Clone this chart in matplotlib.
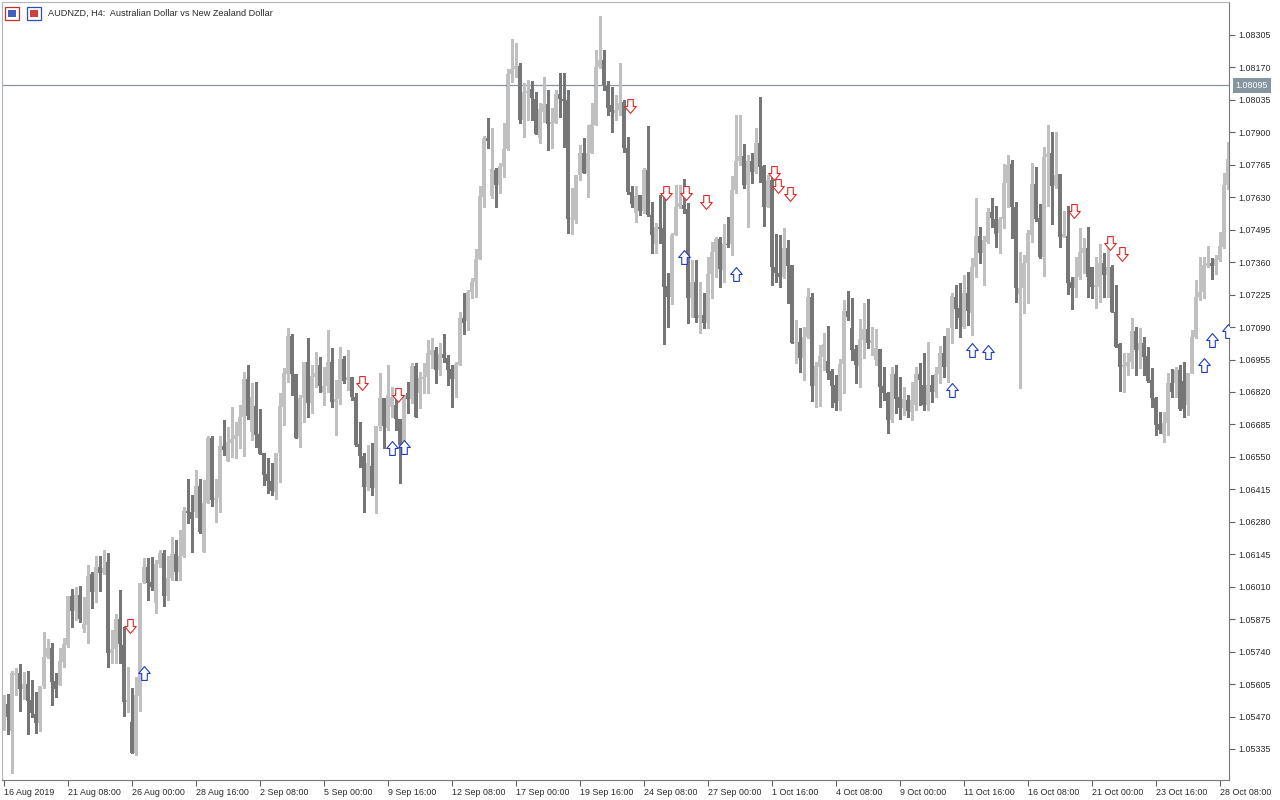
import numpy as np
import matplotlib.pyplot as plt
from matplotlib.patches import Rectangle
from matplotlib.path import Path
import matplotlib.transforms as mtransforms

plt.rcParams['font.family'] = ['Liberation Sans', 'DejaVu Sans']

# AUDNZD H4 candles
opens = [
    1.05427, 1.05522, 1.05410, 1.05643, 1.05651, 1.05585, 1.05606, 1.05539, 1.05481, 1.05443,
    1.05597, 1.05718, 1.05755, 1.05618, 1.05601, 1.05697, 1.05768, 1.05972, 1.05909, 1.05976,
    1.05834, 1.05851, 1.06063, 1.05988, 1.06092, 1.06067, 1.06113, 1.05735, 1.05751, 1.05876,
    1.05768, 1.05531, 1.05447, 1.05319, 1.05556, 1.06026, 1.06092, 1.06030, 1.05943, 1.06105,
    1.06151, 1.05972, 1.06047, 1.06146, 1.06071, 1.06138, 1.06325, 1.06321, 1.06321, 1.06429,
    1.06155, 1.06359, 1.06629, 1.06371, 1.06379, 1.06596, 1.06533, 1.06608, 1.06625, 1.06637,
    1.06716, 1.06874, 1.06654, 1.06762, 1.06646, 1.06567, 1.06479, 1.06450, 1.06404, 1.06567,
    1.06758, 1.06895, 1.07053, 1.06895, 1.06629, 1.06795, 1.06945, 1.06775, 1.06883, 1.06933,
    1.06820, 1.06845, 1.06945, 1.06779, 1.06791, 1.06958, 1.06870, 1.06883, 1.06799, 1.06604,
    1.06554, 1.06425, 1.06512, 1.06421, 1.06679, 1.06795, 1.06671, 1.06758, 1.06766, 1.06708,
    1.06600, 1.06816, 1.06791, 1.06928, 1.06816, 1.06874, 1.06883, 1.06974, 1.06995, 1.06912,
    1.06978, 1.06962, 1.06916, 1.06874, 1.06933, 1.07128, 1.07116, 1.07236, 1.07278, 1.07374,
    1.07631, 1.07877, 1.07636, 1.07744, 1.07681, 1.07756, 1.07831, 1.08143, 1.08164, 1.08176,
    1.07952, 1.08064, 1.08081, 1.08039, 1.07877, 1.07985, 1.08018, 1.07935, 1.07939, 1.08060,
    1.08039, 1.08035, 1.07540, 1.07536, 1.07723, 1.07815, 1.07731, 1.07815, 1.07931, 1.08172,
    1.08201, 1.08097, 1.08014, 1.07981, 1.07993, 1.08027, 1.07835, 1.07652, 1.07565, 1.07640,
    1.07573, 1.07744, 1.07557, 1.07436, 1.07507, 1.07503, 1.07261, 1.07215, 1.07473, 1.07590,
    1.07598, 1.07582, 1.07211, 1.07278, 1.07128, 1.07141, 1.07107, 1.07311, 1.07403, 1.07457,
    1.07328, 1.07436, 1.07436, 1.07661, 1.07781, 1.07802, 1.07681, 1.07781, 1.07735, 1.07856,
    1.07760, 1.07590, 1.07702, 1.07340, 1.07315, 1.07299, 1.07419, 1.07349, 1.07024, 1.07028,
    1.06962, 1.07049, 1.07215, 1.06845, 1.06924, 1.06966, 1.06949, 1.06908, 1.06849, 1.06783,
    1.06937, 1.07157, 1.07087, 1.06999, 1.06928, 1.07037, 1.07082, 1.07024, 1.06953, 1.06999,
    1.06845, 1.06816, 1.06704, 1.06895, 1.06799, 1.06754, 1.06787, 1.06737, 1.06766, 1.06895,
    1.06849, 1.06766, 1.06849, 1.06820, 1.06895, 1.06983, 1.06924, 1.07087, 1.07215, 1.07170,
    1.07091, 1.07232, 1.07149, 1.07340, 1.07469, 1.07399, 1.07444, 1.07569, 1.07540, 1.07482,
    1.07540, 1.07690, 1.07769, 1.07590, 1.07228, 1.07253, 1.07357, 1.07473, 1.07686, 1.07544,
    1.07382, 1.07798, 1.07815, 1.07677, 1.07727, 1.07465, 1.07469, 1.07278, 1.07253, 1.07299,
    1.07399, 1.07419, 1.07340, 1.07257, 1.07257, 1.07357, 1.07307, 1.07340, 1.07153, 1.07020,
    1.06924, 1.06928, 1.06945, 1.07074, 1.06995, 1.07024, 1.06970, 1.06870, 1.06795, 1.06687,
    1.06641, 1.06691, 1.06858, 1.06858, 1.06912, 1.06866, 1.06766, 1.06899, 1.07049, 1.07215,
    1.07236, 1.07344, 1.07357, 1.07344, 1.07369, 1.07423, 1.07681,
]
highs = [
    1.05560, 1.05564, 1.05660, 1.05672, 1.05689, 1.05655, 1.05660, 1.05622, 1.05572, 1.05597,
    1.05822, 1.05793, 1.05776, 1.05651, 1.05755, 1.05797, 1.05972, 1.06001, 1.06009, 1.06013,
    1.05967, 1.06101, 1.06071, 1.06138, 1.06138, 1.06163, 1.06151, 1.05830, 1.05897, 1.05997,
    1.05843, 1.05676, 1.05589, 1.05635, 1.06026, 1.06130, 1.06130, 1.06134, 1.06121, 1.06163,
    1.06163, 1.06138, 1.06217, 1.06205, 1.06246, 1.06342, 1.06458, 1.06392, 1.06496, 1.06458,
    1.06454, 1.06637, 1.06637, 1.06458, 1.06637, 1.06704, 1.06675, 1.06758, 1.06695, 1.06766,
    1.06903, 1.06933, 1.06858, 1.06862, 1.06750, 1.06567, 1.06546, 1.06525, 1.06567, 1.06816,
    1.06920, 1.07087, 1.07062, 1.06895, 1.06808, 1.06945, 1.07045, 1.06933, 1.06987, 1.06966,
    1.06924, 1.07078, 1.07003, 1.06870, 1.07007, 1.06970, 1.06995, 1.06883, 1.06816, 1.06695,
    1.06567, 1.06600, 1.06608, 1.06679, 1.06899, 1.06795, 1.06933, 1.06841, 1.06820, 1.06708,
    1.06808, 1.06862, 1.06941, 1.06941, 1.06903, 1.06941, 1.07037, 1.07045, 1.07007, 1.07024,
    1.07062, 1.06974, 1.06933, 1.06945, 1.07153, 1.07232, 1.07245, 1.07295, 1.07415, 1.07677,
    1.07885, 1.07960, 1.07919, 1.07752, 1.07773, 1.07939, 1.08164, 1.08289, 1.08272, 1.08189,
    1.08106, 1.08118, 1.08114, 1.08068, 1.08023, 1.08131, 1.08077, 1.08002, 1.08077, 1.08147,
    1.08147, 1.08077, 1.07669, 1.07723, 1.07848, 1.07877, 1.07931, 1.08023, 1.08243, 1.08384,
    1.08243, 1.08114, 1.08089, 1.08056, 1.08189, 1.08035, 1.07881, 1.07677, 1.07677, 1.07640,
    1.07752, 1.07927, 1.07611, 1.07523, 1.07640, 1.07661, 1.07315, 1.07482, 1.07681, 1.07681,
    1.07706, 1.07607, 1.07369, 1.07369, 1.07278, 1.07232, 1.07382, 1.07444, 1.07465, 1.07465,
    1.07519, 1.07548, 1.07719, 1.07973, 1.07973, 1.07852, 1.07806, 1.07815, 1.07919, 1.08047,
    1.07765, 1.07723, 1.07723, 1.07478, 1.07473, 1.07503, 1.07453, 1.07349, 1.07120, 1.07087,
    1.07091, 1.07253, 1.07232, 1.06945, 1.07016, 1.07066, 1.07095, 1.06916, 1.06891, 1.06958,
    1.07203, 1.07240, 1.07211, 1.07016, 1.07124, 1.07191, 1.07207, 1.07091, 1.07082, 1.06999,
    1.06924, 1.06820, 1.06924, 1.06933, 1.06883, 1.06841, 1.06808, 1.06862, 1.06924, 1.06941,
    1.06983, 1.07028, 1.06891, 1.06924, 1.07012, 1.07053, 1.07087, 1.07232, 1.07265, 1.07274,
    1.07307, 1.07319, 1.07378, 1.07627, 1.07507, 1.07469, 1.07586, 1.07627, 1.07594, 1.07548,
    1.07769, 1.07806, 1.07785, 1.07611, 1.07403, 1.07390, 1.07494, 1.07773, 1.07756, 1.07602,
    1.07839, 1.07931, 1.07902, 1.07902, 1.07727, 1.07573, 1.07594, 1.07299, 1.07382, 1.07503,
    1.07461, 1.07507, 1.07340, 1.07382, 1.07436, 1.07399, 1.07453, 1.07349, 1.07265, 1.07024,
    1.06983, 1.06983, 1.07128, 1.07091, 1.07087, 1.07049, 1.07007, 1.06920, 1.06799, 1.06737,
    1.06737, 1.06899, 1.06916, 1.06924, 1.06933, 1.06945, 1.06899, 1.07078, 1.07286, 1.07382,
    1.07382, 1.07428, 1.07378, 1.07390, 1.07486, 1.07731, 1.07860,
]
lows = [
    1.05414, 1.05398, 1.05235, 1.05560, 1.05493, 1.05543, 1.05398, 1.05468, 1.05402, 1.05410,
    1.05589, 1.05714, 1.05518, 1.05551, 1.05601, 1.05676, 1.05759, 1.05843, 1.05872, 1.05863,
    1.05822, 1.05776, 1.05922, 1.05947, 1.05992, 1.06063, 1.05676, 1.05693, 1.05693, 1.05693,
    1.05472, 1.05489, 1.05319, 1.05310, 1.05493, 1.06026, 1.05955, 1.05997, 1.05901, 1.06092,
    1.05930, 1.05955, 1.06038, 1.06038, 1.06038, 1.06134, 1.06275, 1.06155, 1.06300, 1.06234,
    1.06155, 1.06359, 1.06346, 1.06279, 1.06321, 1.06558, 1.06533, 1.06550, 1.06546, 1.06587,
    1.06554, 1.06708, 1.06621, 1.06591, 1.06562, 1.06433, 1.06400, 1.06392, 1.06375, 1.06446,
    1.06683, 1.06862, 1.06808, 1.06629, 1.06591, 1.06695, 1.06716, 1.06733, 1.06841, 1.06820,
    1.06766, 1.06820, 1.06758, 1.06641, 1.06770, 1.06858, 1.06829, 1.06787, 1.06596, 1.06508,
    1.06321, 1.06413, 1.06392, 1.06317, 1.06662, 1.06587, 1.06662, 1.06716, 1.06662, 1.06442,
    1.06591, 1.06733, 1.06775, 1.06716, 1.06754, 1.06816, 1.06816, 1.06920, 1.06858, 1.06891,
    1.06945, 1.06849, 1.06758, 1.06799, 1.06933, 1.07062, 1.07078, 1.07211, 1.07215, 1.07374,
    1.07590, 1.07835, 1.07627, 1.07590, 1.07648, 1.07715, 1.07827, 1.08110, 1.08131, 1.07939,
    1.07881, 1.07952, 1.07952, 1.07894, 1.07856, 1.07943, 1.07827, 1.07835, 1.07939, 1.07964,
    1.07839, 1.07482, 1.07478, 1.07523, 1.07702, 1.07731, 1.07631, 1.07815, 1.07931, 1.08168,
    1.08077, 1.07973, 1.07902, 1.07952, 1.07973, 1.07819, 1.07644, 1.07590, 1.07527, 1.07557,
    1.07565, 1.07552, 1.07399, 1.07399, 1.07440, 1.07020, 1.07091, 1.07186, 1.07473, 1.07586,
    1.07565, 1.07107, 1.07132, 1.07111, 1.07066, 1.07087, 1.07087, 1.07211, 1.07299, 1.07257,
    1.07278, 1.07423, 1.07390, 1.07648, 1.07765, 1.07669, 1.07507, 1.07690, 1.07731, 1.07694,
    1.07511, 1.07590, 1.07265, 1.07278, 1.07257, 1.07295, 1.07191, 1.07024, 1.06941, 1.06903,
    1.06870, 1.07045, 1.06783, 1.06758, 1.06762, 1.06912, 1.06874, 1.06758, 1.06745, 1.06745,
    1.06816, 1.07120, 1.06953, 1.06858, 1.06841, 1.06962, 1.07003, 1.06974, 1.06933, 1.06758,
    1.06787, 1.06650, 1.06695, 1.06733, 1.06708, 1.06725, 1.06716, 1.06704, 1.06745, 1.06766,
    1.06745, 1.06745, 1.06779, 1.06799, 1.06858, 1.06883, 1.06862, 1.07024, 1.07087, 1.07049,
    1.07087, 1.07099, 1.07057, 1.07299, 1.07357, 1.07265, 1.07440, 1.07507, 1.07423, 1.07399,
    1.07503, 1.07590, 1.07461, 1.07195, 1.06837, 1.07149, 1.07191, 1.07444, 1.07532, 1.07378,
    1.07303, 1.07594, 1.07519, 1.07669, 1.07423, 1.07465, 1.07228, 1.07166, 1.07215, 1.07290,
    1.07315, 1.07215, 1.07211, 1.07170, 1.07195, 1.07215, 1.07215, 1.07153, 1.07007, 1.06824,
    1.06820, 1.06891, 1.06920, 1.06891, 1.06920, 1.06891, 1.06862, 1.06758, 1.06641, 1.06650,
    1.06612, 1.06641, 1.06799, 1.06799, 1.06745, 1.06716, 1.06725, 1.06899, 1.07045, 1.07203,
    1.07211, 1.07340, 1.07290, 1.07311, 1.07365, 1.07419, 1.07665,
]
closes = [
    1.05527, 1.05468, 1.05651, 1.05651, 1.05585, 1.05606, 1.05535, 1.05485, 1.05443, 1.05597,
    1.05718, 1.05755, 1.05614, 1.05585, 1.05701, 1.05772, 1.05972, 1.05909, 1.05976, 1.05876,
    1.05855, 1.06055, 1.05988, 1.06092, 1.06067, 1.06088, 1.05735, 1.05751, 1.05876, 1.05772,
    1.05531, 1.05539, 1.05319, 1.05560, 1.06026, 1.06092, 1.06026, 1.06009, 1.06105, 1.06151,
    1.05972, 1.06047, 1.06146, 1.06071, 1.06138, 1.06325, 1.06317, 1.06292, 1.06429, 1.06238,
    1.06359, 1.06629, 1.06371, 1.06379, 1.06596, 1.06579, 1.06612, 1.06625, 1.06641, 1.06716,
    1.06874, 1.06720, 1.06799, 1.06641, 1.06562, 1.06475, 1.06450, 1.06408, 1.06567, 1.06762,
    1.06899, 1.07053, 1.06895, 1.06629, 1.06795, 1.06945, 1.06775, 1.06887, 1.06899, 1.06845,
    1.06845, 1.06945, 1.06779, 1.06791, 1.06958, 1.06866, 1.06883, 1.06799, 1.06600, 1.06554,
    1.06425, 1.06525, 1.06421, 1.06679, 1.06795, 1.06679, 1.06808, 1.06799, 1.06708, 1.06600,
    1.06795, 1.06791, 1.06928, 1.06716, 1.06879, 1.06883, 1.06983, 1.06995, 1.06912, 1.06978,
    1.06962, 1.06912, 1.06874, 1.06937, 1.07128, 1.07107, 1.07236, 1.07278, 1.07374, 1.07636,
    1.07877, 1.07864, 1.07748, 1.07681, 1.07760, 1.07831, 1.08143, 1.08164, 1.08176, 1.07952,
    1.08068, 1.08072, 1.08043, 1.07894, 1.07998, 1.08018, 1.07935, 1.07943, 1.08060, 1.08039,
    1.08031, 1.07540, 1.07544, 1.07723, 1.07815, 1.07731, 1.07815, 1.07935, 1.08172, 1.08201,
    1.08093, 1.08002, 1.07985, 1.07993, 1.08023, 1.07835, 1.07652, 1.07602, 1.07636, 1.07573,
    1.07744, 1.07557, 1.07473, 1.07507, 1.07498, 1.07257, 1.07215, 1.07473, 1.07590, 1.07607,
    1.07582, 1.07211, 1.07278, 1.07128, 1.07141, 1.07107, 1.07311, 1.07403, 1.07457, 1.07332,
    1.07436, 1.07432, 1.07661, 1.07781, 1.07802, 1.07681, 1.07781, 1.07735, 1.07856, 1.07756,
    1.07590, 1.07702, 1.07340, 1.07315, 1.07299, 1.07419, 1.07344, 1.07024, 1.07028, 1.06962,
    1.07049, 1.07215, 1.06845, 1.06928, 1.06970, 1.07020, 1.06899, 1.06845, 1.06775, 1.06937,
    1.07157, 1.07132, 1.06995, 1.06933, 1.07041, 1.07082, 1.07024, 1.07037, 1.07003, 1.06841,
    1.06816, 1.06704, 1.06895, 1.06791, 1.06754, 1.06791, 1.06741, 1.06787, 1.06895, 1.06870,
    1.06766, 1.06849, 1.06820, 1.06895, 1.06983, 1.06924, 1.07087, 1.07220, 1.07166, 1.07128,
    1.07232, 1.07157, 1.07340, 1.07469, 1.07399, 1.07453, 1.07569, 1.07544, 1.07478, 1.07540,
    1.07690, 1.07765, 1.07590, 1.07253, 1.07253, 1.07357, 1.07482, 1.07686, 1.07540, 1.07382,
    1.07798, 1.07810, 1.07677, 1.07723, 1.07465, 1.07478, 1.07274, 1.07253, 1.07299, 1.07403,
    1.07419, 1.07299, 1.07257, 1.07265, 1.07357, 1.07307, 1.07340, 1.07153, 1.07007, 1.06924,
    1.06933, 1.06945, 1.07074, 1.06995, 1.07024, 1.06966, 1.06866, 1.06795, 1.06683, 1.06662,
    1.06691, 1.06858, 1.06820, 1.06912, 1.06750, 1.06750, 1.06899, 1.07049, 1.07215, 1.07236,
    1.07349, 1.07357, 1.07344, 1.07374, 1.07428, 1.07681, 1.07790,
]

# signal arrows: bar index and price
sell_bars = [31, 89, 98, 156, 165, 170, 175, 192, 193, 196, 267, 276, 279]
sell_prices = [1.05847, 1.06858, 1.06808, 1.08010, 1.07648, 1.07648, 1.07611,
               1.07731, 1.07677, 1.07644, 1.07573, 1.07440, 1.07394]
buy_bars = [35, 97, 100, 170, 183, 237, 242, 246, 300, 302, 306]
buy_prices = [1.05651, 1.06587, 1.06591, 1.07382, 1.07311, 1.06829, 1.06995,
              1.06987, 1.06933, 1.07037, 1.07074]

level = 1.08095
price_ticks = [1.05335, 1.05470, 1.05605, 1.05740, 1.05875, 1.06010, 1.06145, 1.06280,
               1.06415, 1.06550, 1.06685, 1.06820, 1.06955, 1.07090, 1.07225, 1.07360,
               1.07495, 1.07630, 1.07765, 1.07900, 1.08035, 1.08170, 1.08305]
date_labels = ['16 Aug 2019', '21 Aug 08:00', '26 Aug 00:00', '28 Aug 16:00', '2 Sep 08:00',
               '5 Sep 00:00', '9 Sep 16:00', '12 Sep 08:00', '17 Sep 00:00', '19 Sep 16:00',
               '24 Sep 08:00', '27 Sep 00:00', '1 Oct 16:00', '4 Oct 08:00', '9 Oct 00:00',
               '11 Oct 16:00', '16 Oct 08:00', '21 Oct 00:00', '23 Oct 16:00', '28 Oct 08:00']
bars_per_label = 16

BULL = '#c0c0c0'
BEAR = '#767676'
LINE = '#8596a0'
TXT = '#2a2a2a'

# hollow block arrows like the terminal's signal marks
down_arrow = Path([(-0.2, 0.5), (0.2, 0.5), (0.2, 0.0), (0.42, 0.0), (0.0, -0.5),
                   (-0.42, 0.0), (-0.2, 0.0), (-0.2, 0.5)],
                  [Path.MOVETO] + [Path.LINETO] * 6 + [Path.CLOSEPOLY])
up_arrow = Path([(-0.2, -0.5), (0.2, -0.5), (0.2, 0.0), (0.42, 0.0), (0.0, 0.5),
                 (-0.42, 0.0), (-0.2, 0.0), (-0.2, -0.5)],
                [Path.MOVETO] + [Path.LINETO] * 6 + [Path.CLOSEPOLY])

o = np.array(opens)
h = np.array(highs)
l = np.array(lows)
c = np.array(closes)
x = np.arange(len(c))
up = c >= o
cols = np.where(up, BULL, BEAR)

fig = plt.figure(figsize=(12.8, 8), dpi=100)
ax = fig.add_axes([2 / 1280, 20 / 800, 1227 / 1280, 778 / 800])

ax.vlines(x, l, h, colors=cols, lw=0.75, antialiased=False)
body_lo = np.minimum(o, c)
body_h = np.maximum(np.abs(c - o), 0.00004)
ax.bar(x, body_h, bottom=body_lo, width=0.75, color=cols, lw=0, antialiased=False)

ax.axhline(level, color=LINE, lw=0.9, zorder=1)

ax.plot(np.array(sell_bars) + 0.5, sell_prices, ls='none', marker=down_arrow,
        markersize=10, markerfacecolor='white', markeredgecolor='#e02a2a',
        markeredgewidth=0.8, zorder=4)
ax.plot(buy_bars, buy_prices, ls='none', marker=up_arrow,
        markersize=10, markerfacecolor='white', markeredgecolor='#1f3cc8',
        markeredgewidth=0.8, zorder=4)

ax.set_xlim(-0.375, 306.375)
ax.set_ylim(1.05206, 1.08442)
ax.set_facecolor('white')

ax.yaxis.tick_right()
ax.set_yticks(price_ticks)
ax.set_yticklabels(['%.5f' % t for t in price_ticks])
ax.set_xticks(np.arange(len(date_labels)) * bars_per_label)
ax.set_xticklabels(date_labels)
for lbl in ax.get_xticklabels():
    lbl.set_horizontalalignment('left')
ax.tick_params(axis='both', direction='out', length=4, width=0.8, color='#606060',
               labelsize=6.4, labelcolor=TXT)
ax.tick_params(axis='y', pad=3)
ax.tick_params(axis='x', pad=2)

for side in ['top', 'left']:
    ax.spines[side].set_color('#b4b4b4')
    ax.spines[side].set_linewidth(0.8)
for side in ['right', 'bottom']:
    ax.spines[side].set_color('#7a7a7a')
    ax.spines[side].set_linewidth(0.8)

# current level tag on the price scale
trans = mtransforms.blended_transform_factory(ax.transAxes, ax.transData)
ax.text(1.0055, level, '%.5f' % level, transform=trans, ha='left', va='center',
        fontsize=6.4, color='white', clip_on=False,
        bbox=dict(facecolor=LINE, edgecolor='none', boxstyle='square,pad=0.3'))

# title with the two small toolbar icons
fig.add_artist(Rectangle((5 / 1280, 1 - 20 / 800), 14 / 1280, 13 / 800,
                         facecolor='white', edgecolor='#c03030', lw=0.9))
fig.add_artist(Rectangle((8 / 1280, 1 - 17 / 800), 8 / 1280, 7 / 800,
                         facecolor='#4060c0', edgecolor='none'))
fig.add_artist(Rectangle((27 / 1280, 1 - 20 / 800), 14 / 1280, 13 / 800,
                         facecolor='white', edgecolor='#3050b0', lw=0.9))
fig.add_artist(Rectangle((30 / 1280, 1 - 17 / 800), 8 / 1280, 7 / 800,
                         facecolor='#d04040', edgecolor='none'))
fig.text(48 / 1280, 1 - 13 / 800, 'AUDNZD, H4:  Australian Dollar vs New Zealand Dollar',
         ha='left', va='center', fontsize=6.6, color=TXT)

fig.savefig('out.png', dpi=100, facecolor='white')
